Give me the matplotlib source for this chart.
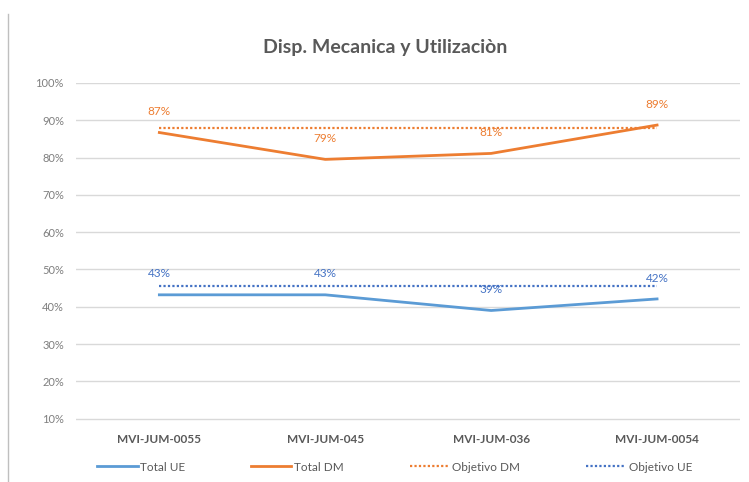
import numpy as np
import matplotlib
matplotlib.use("Agg")
import matplotlib.pyplot as plt
from matplotlib.lines import Line2D

plt.rcParams['font.family'] = ['Lato', 'DejaVu Sans']

categories = ['MVI-JUM-0055', 'MVI-JUM-045', 'MVI-JUM-036', 'MVI-JUM-0054']
total_ue = [0.432, 0.432, 0.390, 0.421]
total_dm = [0.867, 0.795, 0.811, 0.887]
objetivo_dm = [0.88, 0.88, 0.88, 0.88]
objetivo_ue = [0.455, 0.455, 0.455, 0.455]
ue_labels = ['43%', '43%', '39%', '42%']
dm_labels = ['87%', '79%', '81%', '89%']
yticks = [0.1, 0.2, 0.3, 0.4, 0.5, 0.6, 0.7, 0.8, 0.9, 1.0]

c_ue = '#5B9BD5'
c_dm = '#ED7D31'
c_ue_txt = '#4472C4'
grey = '#7F7F7F'

fig = plt.figure(figsize=(7.49, 4.82), dpi=100)
ax = fig.add_axes([0.102, 0.112, 0.886, 0.716])

x = np.arange(len(categories))

ax.plot(x, total_ue, color=c_ue, lw=2, label='Total UE', zorder=3)
ax.plot(x, total_dm, color=c_dm, lw=2, label='Total DM', zorder=3)
ax.plot(x, objetivo_dm, color=c_dm, lw=1.6, ls=(0, (1, 1)), label='Objetivo DM', zorder=2)
ax.plot(x, objetivo_ue, color=c_ue_txt, lw=1.6, ls=(0, (1, 1)), label='Objetivo UE', zorder=2)

for xi, v, t in zip(x, total_dm, dm_labels):
    ax.annotate(t, (xi, v), xytext=(0, 15), textcoords='offset points',
                ha='center', va='center', fontsize=8.5, color=c_dm)
for xi, v, t in zip(x, total_ue, ue_labels):
    ax.annotate(t, (xi, v), xytext=(0, 15), textcoords='offset points',
                ha='center', va='center', fontsize=8.5, color=c_ue_txt)

ax.set_xlim(-0.5, 3.5)
ax.set_ylim(0.075, 1.0)
ax.set_yticks(yticks)
ax.set_yticklabels(['%d%%' % round(v * 100) for v in yticks])
ax.yaxis.grid(True, color='#D9D9D9', lw=1)
ax.set_axisbelow(True)
ax.set_xticks(x)
ax.set_xticklabels(categories, fontsize=8.5, fontweight='bold', color='#595959')
ax.tick_params(axis='y', length=0, labelsize=8, labelcolor=grey, pad=9)
ax.tick_params(axis='x', length=0, pad=4)
for s in ax.spines.values():
    s.set_visible(False)

fig.text(0.514, 0.902, 'Disp. Mecanica y Utilizaciòn', ha='center', va='center',
         fontsize=14, fontweight='bold', color='#595959')

fig.legend(loc='center', bbox_to_anchor=(0.527, 0.031), ncol=4, frameon=False,
           fontsize=8.5, handlelength=3.4, columnspacing=5.6, handletextpad=0.2,
           labelcolor='#595959')

# chart border line on the left
fig.add_artist(Line2D([0.011, 0.011], [0.0, 0.97], color='#BFBFBF', lw=1))

fig.savefig('out.png', dpi=100)
